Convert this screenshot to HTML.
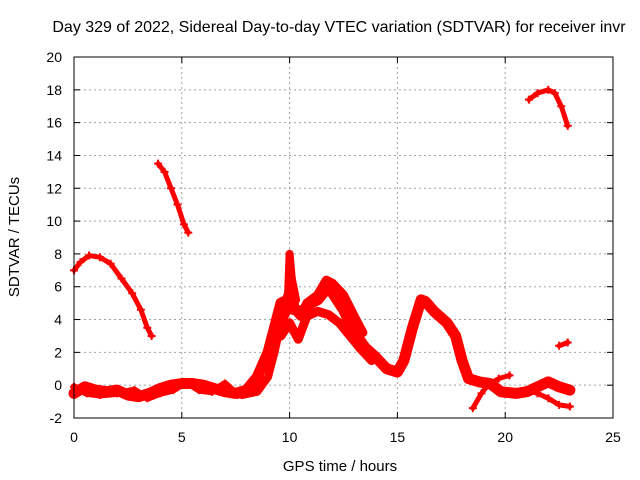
<!DOCTYPE html>
<html><head><meta charset="utf-8"><style>
body{margin:0;background:#fff}
svg{display:block;font-family:"Liberation Sans",sans-serif}
</style></head><body>
<svg id="c" width="640" height="480">
<text x="339" y="32" font-size="16" text-anchor="middle">Day 329 of 2022, Sidereal Day-to-day VTEC variation (SDTVAR) for receiver invr</text>
<text x="340" y="471" font-size="15" text-anchor="middle">GPS time / hours</text>
<text transform="translate(19,237) rotate(-90)" font-size="15" text-anchor="middle">SDTVAR / TECUs</text>
<g id="grid"></g><g id="ticks"></g><g id="series"></g>
<rect x="74" y="57" width="539" height="361" fill="none" stroke="#000" stroke-width="1"/>
</svg>
<script>
const xTicks=[0,5,10,15,20,25];
const yTicks=[-2,0,2,4,6,8,10,12,14,16,18,20];
const segA=[[0,7],[0.3,7.5],[0.7,7.9],[1.2,7.8],[1.7,7.4],[2.2,6.5],[2.7,5.6],[3.1,4.6],[3.4,3.5],[3.6,3.0]];
const segB=[[3.9,13.5],[4.2,13],[4.5,12],[4.8,11],[5.1,9.8],[5.3,9.3]];
const segC=[[21.1,17.4],[21.5,17.8],[22,18],[22.3,17.8],[22.6,17],[22.9,15.8]];
const segD=[[22.5,2.4],[22.9,2.6]];
const segMain=[[0,-0.5],[0.5,-0.1],[1,-0.3],[1.5,-0.4],[2,-0.3],[2.5,-0.6],[3,-0.7],[3.5,-0.5],[4,-0.2],[4.5,0],[5,0.1],[5.5,0.1],[6,0],[6.5,-0.2],[7,-0.4],[7.5,-0.5],[8,-0.3],[8.5,0.5],[9,2],[9.3,3.5],[9.6,5],[9.9,5.2],[10.1,6],[10.2,4.6],[10.6,4.5],[11,5],[11.3,5.2],[11.8,6],[12.2,5.2],[12.5,4.6],[13,3.2],[13.5,2.3],[14,1.7],[14.5,1],[15,0.8],[15.3,1.5],[15.7,3.5],[16.1,5.2],[16.3,5.1],[16.7,4.5],[17.3,3.8],[17.7,3],[18,1.5],[18.3,0.4],[18.8,0.2],[19.3,0.1],[19.8,-0.4],[20.5,-0.5],[21,-0.4],[21.5,-0.1],[22,0.2],[22.5,-0.1],[23,-0.3]];
const segBase2=[[0,-0.1],[0.6,-0.5],[1.2,-0.6],[2,-0.5],[2.8,-0.3],[3.4,-0.8],[4,-0.5],[4.6,-0.3],[5.2,0.2],[5.8,-0.3],[6.4,-0.4],[7,0.1],[7.6,-0.6],[8.2,-0.4]];
const segRise=[[7.8,-0.6],[8.5,-0.4],[9,0.5],[9.3,2],[9.6,3.8],[9.9,4.5],[10,8],[10.1,6.5],[10.3,5.2]];
const segUpper=[[9.5,4.5],[10,5],[10.5,4.2],[10.8,5],[11.3,5.5],[11.7,6.4],[12,6.2],[12.5,5.5],[13,4.2],[13.4,3.2]];
const segLower=[[9.6,3],[10,3.8],[10.4,2.8],[10.8,4.2],[11.3,4.5],[11.8,4.3],[12.3,3.8],[12.8,3],[13.3,2.2],[13.8,1.5]];
const segLow=[[18.5,-1.4],[18.9,-0.5],[19.2,0],[19.7,0.4],[20.2,0.6]];
const segTail=[[21,-0.3],[21.5,-0.5],[22,-0.8],[22.5,-1.2],[23,-1.3]];
const X=v=>74+v*539/25, Y=v=>418-(v+2)*361/22;
const NS="http://www.w3.org/2000/svg";
function mk(t,a,p){const e=document.createElementNS(NS,t);for(const k in a)e.setAttribute(k,a[k]);p.appendChild(e);return e;}
const grid=document.getElementById('grid'),ticks=document.getElementById('ticks'),ser=document.getElementById('series');
xTicks.forEach(t=>{
 if(t>0&&t<25){const g=mk('line',{x1:X(t),x2:X(t),y1:57,y2:418,stroke:'#a0a0a0','stroke-dasharray':'2,3'},grid);
 
 }
 mk('line',{x1:X(t),x2:X(t),y1:418,y2:412,stroke:'#000'},ticks);mk('line',{x1:X(t),x2:X(t),y1:57,y2:63,stroke:'#000'},ticks);
 const l=mk('text',{x:X(t),y:442,'font-size':14,'text-anchor':'middle'},ticks);l.textContent=t;
 
 
});
yTicks.forEach(t=>{
 if(t>-2&&t<20){const g=mk('line',{x1:74,x2:613,y1:Y(t),y2:Y(t),stroke:'#a0a0a0','stroke-dasharray':'2,3'},grid);
 
 }
 mk('line',{x1:74,x2:80,y1:Y(t),y2:Y(t),stroke:'#000'},ticks);mk('line',{x1:607,x2:613,y1:Y(t),y2:Y(t),stroke:'#000'},ticks);
 const l=mk('text',{x:62,y:Y(t)+5,'font-size':14,'text-anchor':'end'},ticks);l.textContent=t;
 
 
});
function draw(seg,w,name){
 const p=mk('polyline',{points:seg.map(d=>X(d[0])+','+Y(d[1])).join(' '),fill:'none',stroke:'#ff0000','stroke-width':w,'stroke-linejoin':'round','stroke-linecap':'round'},ser);
 
 
 seg.forEach(d=>{const x=X(d[0]),y=Y(d[1]);
  const m=mk('path',{d:`M${x-4},${y}H${x+4}M${x},${y-4}V${y+4}`,stroke:'#ff0000','stroke-width':2},ser);
  
  });
}
draw(segA,5,'trace-a');draw(segB,5,'trace-b');draw(segC,5,'trace-c');draw(segD,5,'trace-d');
draw(segMain,11,'trace-main');draw(segBase2,7,'trace-base2');draw(segRise,8,'trace-rise');
draw(segUpper,9,'trace-upper');draw(segLower,9,'trace-lower');
draw(segLow,5,'trace-low');draw(segTail,5,'trace-tail');
</script>
</body></html>
